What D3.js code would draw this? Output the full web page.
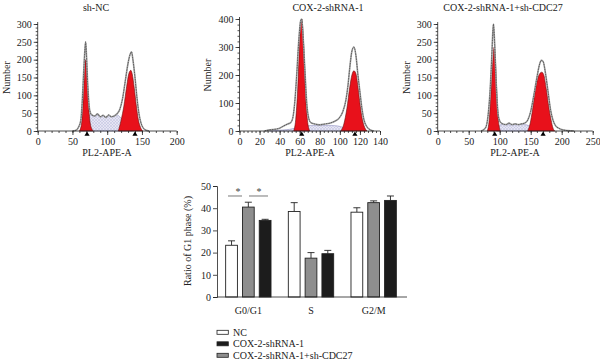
<!DOCTYPE html>
<html><head><meta charset="utf-8">
<script src="https://cdn.jsdelivr.net/npm/d3@7"></script>
<style>body{margin:0;background:#fff}svg{display:block;font-family:"Liberation Serif","Times New Roman",serif}</style>
</head><body>
<svg id="c" width="600" height="364"></svg>
<script>
// ---------- Flow histogram data ----------
const histTitles = ["sh-NC", "COX-2-shRNA-1", "COX-2-shRNA-1+sh-CDC27"];
const histXMax = [200, 140, 250];
const histYMax = [300, 400, 300];
const histXTickStep = [50, 20, 50];
const histYTickStep = [50, 100, 50];
const histXMinorStep = [10, 4, 10];
const histYMinorStep = [10, 20, 10];
const histMarkers = [[71, 140], [62, 115], [92, 170]];

const outline1 = [[50,0],[55,2],[58,8],[62,30],[64,80],[66,160],[68,230],[69,250],[70,220],[72,130],[74,70],[76,50],[78,45],[82,42],[86,48],[90,40],[94,44],[98,38],[102,45],[106,40],[110,42],[114,48],[118,60],[122,90],[126,140],[130,190],[133,215],[135,222],[137,200],[140,150],[143,90],[146,45],[149,20],[152,8],[156,2],[160,0]];
const g1Fit1 = [[60,0],[63,20],[65,70],[67,150],[69,200],[71,150],[73,80],[75,30],[78,5],[80,0]];
const g2Fit1 = [[116,0],[120,30],[124,70],[128,125],[131,160],[134,170],[136,160],[139,120],[142,70],[145,30],[148,10],[151,0]];
const sFit1 = [[62,0],[66,20],[70,35],[76,45],[82,42],[86,46],[90,40],[94,43],[98,38],[102,44],[106,40],[110,42],[114,45],[118,40],[124,25],[130,10],[136,0]];

const outline2 = [[25,0],[30,4],[35,6],[40,10],[44,18],[48,25],[51,30],[53,45],[55,100],[57,200],[59,320],[61,395],[62,400],[63,360],[65,230],[67,100],[69,45],[71,30],[75,25],[80,22],[85,25],[90,28],[95,35],[99,45],[103,70],[106,110],[108,160],[110,230],[112,285],[114,300],[116,270],[118,200],[120,140],[122,80],[124,40],[127,15],[130,5],[134,0]];
const g1Fit2 = [[54,0],[56,40],[58,150],[60,320],[62,400],[64,300],[66,120],[68,30],[70,0]];
const g2Fit2 = [[101,0],[104,25],[107,80],[110,160],[112,200],[114,215],[116,205],[118,160],[120,100],[122,50],[124,20],[127,0]];
const sFit2 = [[30,0],[40,3],[50,6],[55,10],[60,14],[66,18],[72,20],[80,20],[90,20],[98,18],[104,12],[110,5],[114,0]];

const outline3 = [[70,0],[75,5],[78,12],[81,40],[84,100],[87,200],[89,280],[90,300],[92,240],[94,150],[96,80],[98,40],[101,25],[105,20],[110,18],[115,22],[120,18],[125,20],[130,18],[135,20],[140,22],[145,30],[150,55],[155,100],[160,150],[164,185],[167,198],[170,195],[174,160],[178,110],[182,60],[186,30],[190,15],[195,8],[200,4],[210,1],[220,0]];
const g1Fit3 = [[80,0],[83,30],[86,110],[89,200],[91,235],[93,200],[95,120],[97,50],[99,15],[101,0]];
const g2Fit3 = [[145,0],[149,20],[153,60],[157,110],[161,145],[165,162],[168,165],[171,158],[175,120],[179,70],[183,30],[186,8],[189,0]];
const sFit3 = [[95,0],[98,10],[102,18],[110,18],[120,17],[130,18],[140,18],[148,14],[155,6],[160,0]];

// ---------- Bar chart data ----------
const phases = ["G0/G1", "S", "G2/M"];
const groups = ["NC", "COX-2-shRNA-1+sh-CDC27", "COX-2-shRNA-1"];
const legendOrder = ["NC", "COX-2-shRNA-1", "COX-2-shRNA-1+sh-CDC27"];
const meanNC = [23.3, 38.5, 38.2];
const meanCDC27 = [40.5, 17.5, 42.5];
const meanShRNA = [34.5, 19.5, 43.5];
const errNC = [2.0, 4.0, 2.0];
const errCDC27 = [2.2, 2.5, 0.8];
const errShRNA = [0.5, 1.5, 2.0];
const barYTicks = [0, 10, 20, 30, 40, 50];

// ---------- Drawing ----------
const svg = d3.select("#c");
const defs = svg.append("defs");
const pat = defs.append("pattern").attr("id","hatch").attr("width",3).attr("height",3)
  .attr("patternUnits","userSpaceOnUse");
pat.append("rect").attr("width",3).attr("height",3).attr("fill","#e6e6f4");
pat.append("path").attr("d","M0,3 L3,0 M0,0 L3,3").attr("stroke","#b4b4d8").attr("stroke-width",0.4);

const layouts = [
  {x0: 37.7, x1: 176.7, y0: 131, y1: 24, titleX: 96, labX: 7, xlabX: 107},
  {x0: 239.5, x1: 380, y0: 131, y1: 19, titleX: 328, labX: 208, xlabX: 310},
  {x0: 437.7, x1: 592.7, y0: 131, y1: 24, titleX: 503, labX: 407, xlabX: 515}
];
const outlines = [outline1, outline2, outline3];
const g1s = [g1Fit1, g1Fit2, g1Fit3];
const g2s = [g2Fit1, g2Fit2, g2Fit3];
const ss = [sFit1, sFit2, sFit3];

layouts.forEach((L, i) => {
  const x = d3.scaleLinear().domain([0, histXMax[i]]).range([L.x0, L.x1]);
  const y = d3.scaleLinear().domain([0, histYMax[i]]).range([L.y0, L.y1]);
  const g = svg.append("g");
  const area = d3.area().x(d => x(d[0])).y0(y(0)).y1(d => y(d[1])).curve(d3.curveMonotoneX);
  const line = d3.line().x(d => x(d[0])).y(d => y(d[1])).curve(d3.curveMonotoneX);
  g.append("path").datum(ss[i]).attr("d", area).attr("fill","url(#hatch)").attr("stroke","#8080b8").attr("stroke-width",0.5);
  [g1s[i], g2s[i]].forEach(dd => {
    g.append("path").datum(dd).attr("d", area).attr("fill","#e8111b").attr("stroke","#6a1010").attr("stroke-width",0.6);
  });
  g.append("path").datum(outlines[i]).attr("d", line).attr("fill","none").attr("stroke","#a0a0a0").attr("stroke-width",1.6);
  g.append("path").datum(outlines[i]).attr("d", line).attr("fill","none").attr("stroke","#333").attr("stroke-width",0.6).attr("stroke-dasharray","1.5,1");

  // axes
  const xMaj = d3.range(0, histXMax[i] + 0.1, histXTickStep[i]);
  const xMin = d3.range(0, histXMax[i] + 0.1, histXMinorStep[i]);
  const yMaj = d3.range(0, histYMax[i] + 0.1, histYTickStep[i]);
  const yMin = d3.range(0, histYMax[i] + 0.1, histYMinorStep[i]);
  const ax = g.append("g").attr("transform", `translate(0,${L.y0})`)
    .call(d3.axisBottom(x).tickValues(xMin).tickSize(2).tickFormat(""));
  ax.select(".domain").remove();
  g.append("g").attr("transform", `translate(0,${L.y0})`)
    .call(d3.axisBottom(x).tickValues(xMaj).tickSize(4).tickPadding(3).tickFormat(d3.format("d")))
    .call(s => s.selectAll("text").attr("font-size", 10).attr("font-family","Liberation Serif").attr("fill","#222"))
    .call(s => s.select(".domain").attr("d", `M${L.x0},0H${L.x1}`));
  const ay = g.append("g").attr("transform", `translate(${L.x0},0)`)
    .call(d3.axisLeft(y).tickValues(yMin).tickSize(2).tickFormat(""));
  ay.select(".domain").remove();
  g.append("g").attr("transform", `translate(${L.x0},0)`)
    .call(d3.axisLeft(y).tickValues(yMaj).tickSize(4).tickPadding(2).tickFormat(d3.format("d")))
    .call(s => s.selectAll("text").attr("font-size", 10).attr("font-family","Liberation Serif").attr("fill","#222"))
    .call(s => s.select(".domain").attr("d", `M0,${L.y0}V${L.y1 - 2}`));
  g.selectAll("path.domain, .tick line").attr("stroke","#222").attr("stroke-width",0.8);

  // markers
  g.selectAll("path.mk").data(histMarkers[i]).join("path").attr("class","mk")
    .attr("d", d => `M${x(d)},${L.y0 + 0.5}l2.6,4.2h-5.2z`).attr("fill","#000");

  // titles
  svg.append("text").attr("x", L.titleX).attr("y", 11).attr("text-anchor","middle")
    .attr("font-size", 10).attr("fill","#222").text(histTitles[i]);
  svg.append("text").attr("transform", `translate(${L.labX + 3},${(L.y0 + L.y1) / 2}) rotate(-90)`)
    .attr("text-anchor","middle").attr("font-size", 10).attr("fill","#222").text("Number");
  svg.append("text").attr("x", L.xlabX).attr("y", 156).attr("text-anchor","middle")
    .attr("font-size", 10).attr("fill","#222").text("PL2-APE-A");
});

// ---------- Bar chart ----------
const bx = d3.scaleBand().domain(phases).range([217, 405]).paddingInner(0).paddingOuter(0);
const by = d3.scaleLinear().domain([0, 50]).range([297, 186]);
const means = {"NC": meanNC, "COX-2-shRNA-1+sh-CDC27": meanCDC27, "COX-2-shRNA-1": meanShRNA};
const errs = {"NC": errNC, "COX-2-shRNA-1+sh-CDC27": errCDC27, "COX-2-shRNA-1": errShRNA};
const fills = {"NC": "#ffffff", "COX-2-shRNA-1+sh-CDC27": "#8e8e8e", "COX-2-shRNA-1": "#1c1c1c"};
const bg = svg.append("g");
phases.forEach((p, pi) => {
  const c = bx(p) + bx.bandwidth() / 2;
  const sub = d3.scaleBand().domain(groups).range([c - 25.2, c + 25.2]).paddingInner(0.3).paddingOuter(0.15);
  groups.forEach(gname => {
    const v = means[gname][pi], e = errs[gname][pi];
    const xl = sub(gname), w = sub.bandwidth(), xm = xl + w / 2;
    bg.append("line").attr("x1", xm).attr("x2", xm).attr("y1", by(v)).attr("y2", by(v + e)).attr("stroke","#222").attr("stroke-width",0.9);
    bg.append("line").attr("x1", xm - 3.5).attr("x2", xm + 3.5).attr("y1", by(v + e)).attr("y2", by(v + e)).attr("stroke","#222").attr("stroke-width",0.9);
    bg.append("rect").attr("x", xl).attr("y", by(v)).attr("width", w).attr("height", by(0) - by(v))
      .attr("fill", fills[gname]).attr("stroke","#222").attr("stroke-width",0.9);
  });
});
// significance
const sigY = 45.5;
const sigLines = [[228, 242, 238], [249, 268, 259]];
sigLines.forEach(s => {
  bg.append("line").attr("x1", s[0]).attr("x2", s[1]).attr("y1", by(sigY)).attr("y2", by(sigY)).attr("stroke","#555").attr("stroke-width",0.8);
  bg.append("text").attr("x", s[2]).attr("y", by(sigY) - 0.5).attr("text-anchor","middle").attr("font-size", 10).attr("fill","#444").text("*");
});
// axes
svg.append("g").attr("transform","translate(217,0)")
  .call(d3.axisLeft(by).tickValues(barYTicks).tickSize(4).tickPadding(2))
  .call(s => s.selectAll("text").attr("font-size", 10).attr("font-family","Liberation Serif").attr("fill","#222"))
  .call(s => s.selectAll("path.domain, .tick line").attr("stroke","#222").attr("stroke-width",0.8));
svg.append("line").attr("x1", 217).attr("x2", 407).attr("y1", by(0)).attr("y2", by(0)).attr("stroke","#222").attr("stroke-width",0.8);
phases.forEach(p => {
  svg.append("text").attr("x", bx(p) + bx.bandwidth() / 2).attr("y", 314).attr("text-anchor","middle")
    .attr("font-size", 10).attr("fill","#222").text(p);
});
svg.append("text").attr("transform","translate(191,241) rotate(-90)").attr("text-anchor","middle")
  .attr("font-size", 10).attr("fill","#222").text("Ratio of G1 phase (%)");
// legend
const legFill = {"NC": "#ffffff", "COX-2-shRNA-1": "#1c1c1c", "COX-2-shRNA-1+sh-CDC27": "#8e8e8e"};
legendOrder.forEach((n, i) => {
  const yy = 332.3 + i * 11.5;
  svg.append("rect").attr("x", 217).attr("y", yy - 2).attr("width", 11.3).attr("height", 4)
    .attr("fill", legFill[n]).attr("stroke","#222").attr("stroke-width",0.8);
  svg.append("text").attr("x", 233).attr("y", yy + 3.5).attr("font-size", 10).attr("fill","#222").text(n);
});
</script>
</body></html>
